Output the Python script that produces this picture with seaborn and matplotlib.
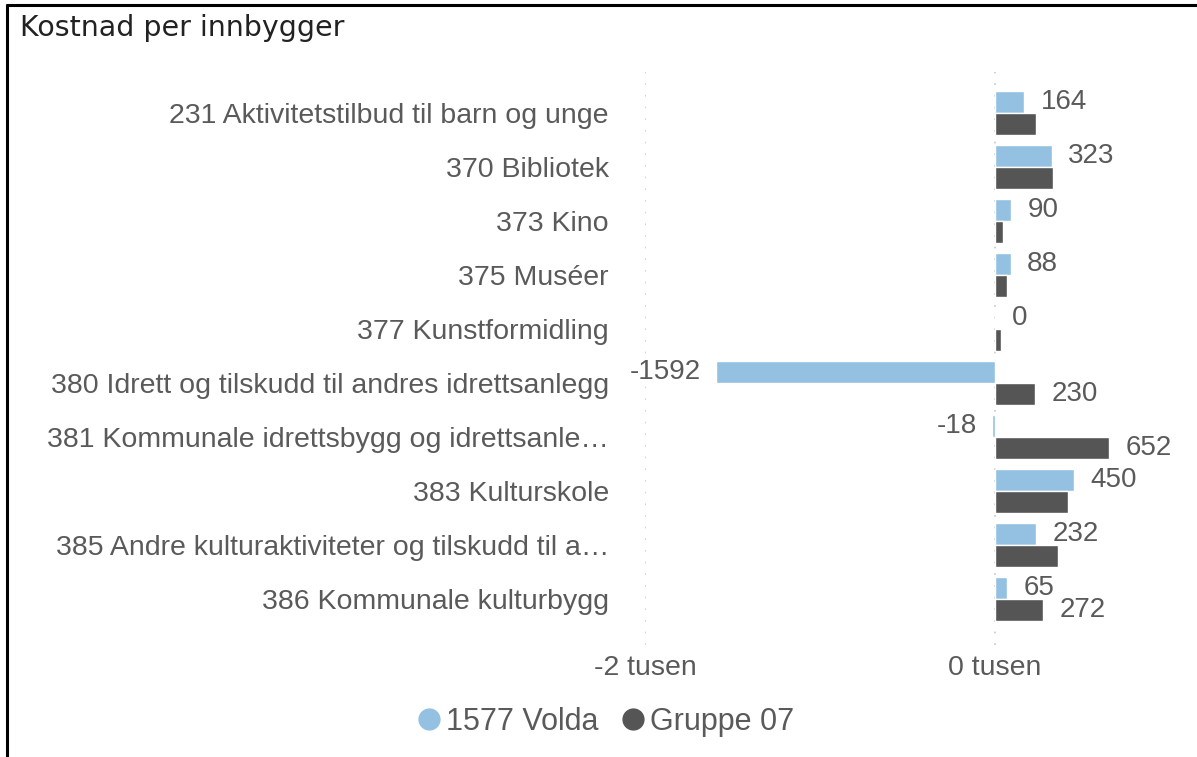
import matplotlib.pyplot as plt
import pandas as pd
import seaborn as sns
from matplotlib.lines import Line2D

# kategoriar (Power BI har forkorta to av dei)
kategoriar = [
    "231 Aktivitetstilbud til barn og unge",
    "370 Bibliotek",
    "373 Kino",
    "375 Muséer",
    "377 Kunstformidling",
    "380 Idrett og tilskudd til andres idrettsanlegg",
    "381 Kommunale idrettsbygg og idrettsanle…",
    "383 Kulturskole",
    "385 Andre kulturaktiviteter og tilskudd til a…",
    "386 Kommunale kulturbygg",
]
volda = [164, 323, 90, 88, 0, -1592, -18, 450, 232, 65]
gruppe07 = [233, 328, 45, 68, 34, 230, 652, 415, 358, 272]
# berre desse etikettane for Gruppe 07 er synlege i originalen
gruppe07_vis = [False, False, False, False, False, True, True, False, False, True]

serie_namn = ["1577 Volda", "Gruppe 07"]
fargar = ["#94C1E1", "#555555"]
tekstfarge = "#5a5a5a"

df = pd.DataFrame({
    "kategori": kategoriar * 2,
    "serie": [serie_namn[0]] * len(kategoriar) + [serie_namn[1]] * len(kategoriar),
    "verdi": volda + gruppe07,
})

sns.set_theme(style="white")
plt.rcParams["font.family"] = ["Liberation Sans", "DejaVu Sans"]

fig = plt.figure(figsize=(11.97, 7.57), dpi=100)
ax = fig.add_axes([645 / 1197, 1 - 645 / 757, (1179 - 645) / 1197, (645 - 72) / 757])

sns.barplot(data=df, x="verdi", y="kategori", hue="serie", hue_order=serie_namn,
            palette=fargar, orient="h", width=0.8, saturation=1, legend=False, ax=ax)

ax.set_xlim(-2000, 1050)
ax.set_ylim(9.85, -0.76)
ax.set_xticks([-2000, 0])
ax.set_xticklabels(["-2 tusen", "0 tusen"])
ax.set_xlabel("")
ax.set_ylabel("")
ax.tick_params(axis="y", length=0, pad=26, labelsize=20.5, labelcolor=tekstfarge)
ax.tick_params(axis="x", length=0, pad=7, labelsize=20.5, labelcolor=tekstfarge)
for s in ax.spines.values():
    s.set_visible(False)
ax.xaxis.grid(True, color="#c8c8c8", linestyle=(0, (1, 6)), linewidth=1.2)
ax.yaxis.grid(False)
ax.set_axisbelow(True)


# verdietikettar
def merk(bar, v):
    y = bar.get_y() + bar.get_height() / 2
    if v < 0:
        ax.annotate(f"{v}", (v, y), xytext=(-11, 0), textcoords="offset points",
                    ha="right", va="center", fontsize=20, color=tekstfarge)
    else:
        ax.annotate(f"{v}", (v, y), xytext=(12, 0), textcoords="offset points",
                    ha="left", va="center", fontsize=20, color=tekstfarge)


for bar, v in zip(ax.containers[0], volda):
    merk(bar, v)
for bar, v, vis in zip(ax.containers[1], gruppe07, gruppe07_vis):
    if vis:
        merk(bar, v)

# tittel
fig.text(20 / 1197, 1 - 28 / 757, "Kostnad per innbygger", family=["DejaVu Sans"],
         fontsize=20.5, color="#222222", ha="left", va="center")

# legende
handles = [Line2D([], [], marker="o", linestyle="", markersize=15, color=c) for c in fargar]
fig.legend(handles, serie_namn, loc="center", bbox_to_anchor=(603 / 1197, 1 - 722 / 757),
           ncol=2, frameon=False, fontsize=22, handletextpad=0.0, columnspacing=0.6,
           labelcolor=tekstfarge, handlelength=1.1)

# ramme
fig.add_artist(Line2D([7 / 1197, 7 / 1197], [0, 1 - 5 / 757], color="black", linewidth=2.2,
                      transform=fig.transFigure))
fig.add_artist(Line2D([7 / 1197, 1], [1 - 5 / 757, 1 - 5 / 757], color="black", linewidth=2.2,
                      transform=fig.transFigure))

fig.savefig("out.png", dpi=100)
